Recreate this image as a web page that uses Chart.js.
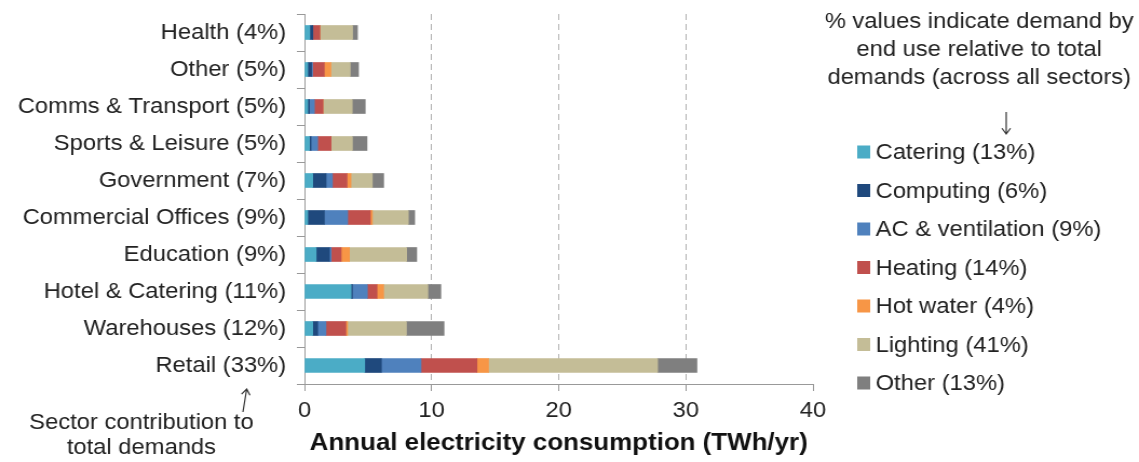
<!DOCTYPE html>
<html>
<head>
<meta charset="utf-8">
<script src="https://cdn.jsdelivr.net/npm/chart.js@4/dist/chart.umd.min.js"></script>
<style>
  html, body { margin: 0; padding: 0; background: #fff; }
  #wrap { width: 1139px; height: 462px; overflow: hidden; }
</style>
</head>
<body>
<div id="wrap">
  <!-- the source picture is a little wider than tall, so the canvas is stretched sideways -->
  <canvas id="chart" width="1055" height="462" style="width:1139px;height:462px;display:block"></canvas>
</div>
<script>
const sectors = ["Health", "Other", "Comms & Transport", "Sports & Leisure", "Government",
  "Commercial Offices", "Education", "Hotel & Catering", "Warehouses", "Retail"];
const sectorShares = [4, 5, 5, 5, 7, 9, 9, 11, 12, 33];

const endUses = ["Catering", "Computing", "AC & ventilation", "Heating", "Hot water", "Lighting", "Other"];
const endUseShares = [13, 6, 9, 14, 4, 41, 13];
const endUseColors = ["#4BACC6", "#1F497D", "#4F81BD", "#C0504D", "#F79646", "#C4BD97", "#7F7F7F"];

// TWh/yr, one value per sector (top to bottom)
const catering  = [0.42, 0.26, 0.26, 0.39, 0.65, 0.26, 0.92, 3.67, 0.65, 4.74];
const computing = [0.24, 0.30, 0.13, 0.13, 1.05, 1.31, 1.05, 0.10, 0.39, 1.31];
const acVent    = [0.00, 0.08, 0.39, 0.52, 0.50, 1.83, 0.13, 1.18, 0.65, 3.12];
const heating   = [0.55, 0.92, 0.68, 1.05, 1.15, 1.78, 0.79, 0.76, 1.57, 4.40];
const hotWater  = [0.00, 0.52, 0.00, 0.00, 0.31, 0.16, 0.65, 0.52, 0.13, 0.91];
const lighting  = [2.57, 1.52, 2.30, 1.68, 1.68, 2.83, 4.50, 3.48, 4.63, 13.30];
const otherUse  = [0.39, 0.65, 1.02, 1.15, 0.89, 0.50, 0.79, 1.02, 2.96, 3.09];

const xTicks = [0, 10, 20, 30, 40];

const noteTop = ["% values indicate demand by", "end use relative to total", "demands (across all sectors)"];
const noteBottom = ["Sector contribution to", "total demands"];

const FONT = "'Liberation Sans', Arial, sans-serif";
const TEXT = "#222";

const series = [catering, computing, acVent, heating, hotWater, lighting, otherUse];

function arrow(ctx, x1, y1, x2, y2) {
  const a = Math.atan2(y2 - y1, x2 - x1);
  const h = 7;
  ctx.beginPath();
  ctx.moveTo(x1, y1);
  ctx.lineTo(x2, y2);
  ctx.moveTo(x2 - h * Math.cos(a - 0.6), y2 - h * Math.sin(a - 0.6));
  ctx.lineTo(x2, y2);
  ctx.lineTo(x2 - h * Math.cos(a + 0.6), y2 - h * Math.sin(a + 0.6));
  ctx.stroke();
}

// legend and the two notes
const sideNotes = {
  id: "sideNotes",
  afterDraw(chart) {
    const ctx = chart.ctx;
    ctx.save();
    ctx.font = "22px " + FONT;
    ctx.fillStyle = TEXT;
    ctx.strokeStyle = "#333";
    ctx.lineWidth = 1.2;
    ctx.textBaseline = "middle";

    ctx.textAlign = "center";
    noteTop.forEach((t, i) => ctx.fillText(t, 907, 22 + i * 28));
    arrow(ctx, 932, 112, 932, 134);

    noteBottom.forEach((t, i) => ctx.fillText(t, 131, 423 + i * 25));
    arrow(ctx, 225, 412, 228.5, 389);

    ctx.textAlign = "left";
    chart.data.datasets.forEach((ds, i) => {
      const y = 152 + i * 38.5;
      ctx.fillStyle = ds.backgroundColor;
      ctx.fillRect(794, y - 6.5, 12, 13);
      ctx.fillStyle = TEXT;
      ctx.fillText(ds.label, 811, y + 1);
    });
    ctx.restore();
  }
};

new Chart(document.getElementById("chart"), {
  type: "bar",
  data: {
    labels: sectors.map((s, i) => `${s} (${sectorShares[i]}%)`),
    datasets: endUses.map((u, i) => ({
      label: `${u} (${endUseShares[i]}%)`,
      data: series[i],
      backgroundColor: endUseColors[i],
      borderWidth: 0,
      barThickness: 14
    }))
  },
  options: {
    indexAxis: "y",
    responsive: false,
    animation: false,
    layout: { padding: { top: 14, right: 302, bottom: 0, left: 0 } },
    plugins: { legend: { display: false }, tooltip: { enabled: false } },
    scales: {
      x: {
        stacked: true,
        min: 0,
        max: 40,
        afterBuildTicks: (s) => { s.ticks = xTicks.map(v => ({ value: v })); },
        afterFit: (s) => { s.height = 78; },
        ticks: { color: TEXT, font: { family: FONT, size: 22 }, padding: 7 },
        grid: {
          color: (c) => (c.tick && c.tick.value > 0 && c.tick.value < 40) ? "#b3b3b3" : "rgba(0,0,0,0)",
          tickColor: "#999",
          tickLength: 7,
          tickBorderDash: []
        },
        border: { color: "#999", dash: [6, 4] },
        title: {
          display: true,
          text: "Annual electricity consumption (TWh/yr)",
          color: "#111",
          font: { family: FONT, size: 24, weight: "bold" },
          padding: { top: 0, bottom: 4 }
        }
      },
      y: {
        stacked: true,
        afterFit: (s) => { s.width = 282; s.paddingTop = 0; s.paddingBottom = 0; },
        ticks: { color: TEXT, font: { family: FONT, size: 22 }, padding: 10, autoSkip: false },
        grid: { drawOnChartArea: false, offset: true, tickLength: 7, color: "#999" },
        border: { color: "#999" }
      }
    }
  },
  plugins: [sideNotes]
});
</script>
</body>
</html>
